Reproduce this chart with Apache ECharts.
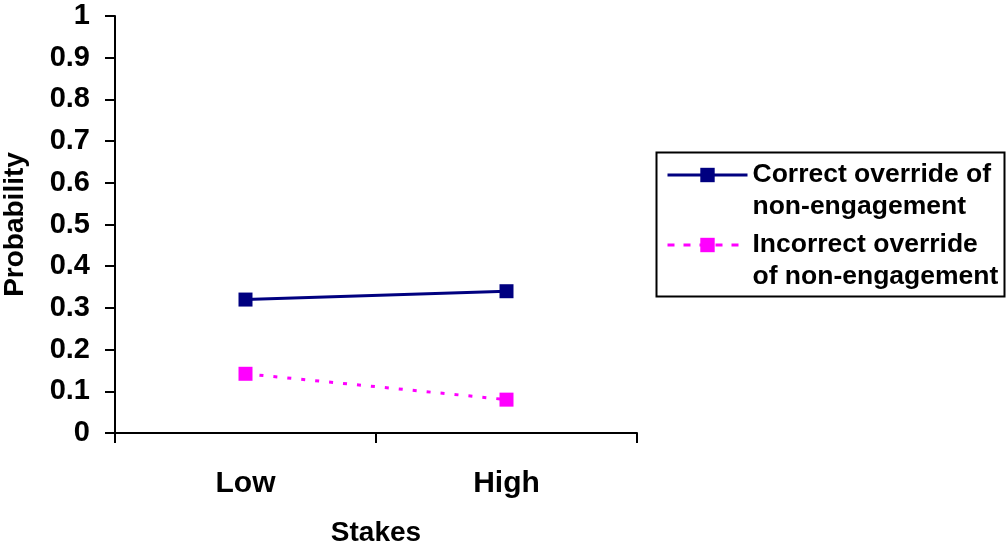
<!DOCTYPE html>
<html><head><meta charset="utf-8">
<script src="https://cdn.jsdelivr.net/npm/echarts@6/dist/echarts.min.js"></script>
<style>html,body{margin:0;padding:0;background:#fff}#c{width:1008px;height:550px}</style>
</head><body><div id="c"></div>
<script>
const categories = ['Low', 'High'];
const correctVals = [0.32, 0.34];
const incorrectVals = [0.142, 0.08];
const seriesNames = ['Correct override of\nnon-engagement', 'Incorrect override\nof non-engagement'];
const F = 'Liberation Sans, Arial, sans-serif';
const legendText = {fontFamily: F, fontWeight: 'bold', fontSize: 26.5, color: '#000', lineHeight: 32};
function legendFor(name, top, lineType) {
  return {
    data: [name], left: 666, top: top, padding: 0, orient: 'vertical',
    itemWidth: 80, itemHeight: 18, selectedMode: false,
    formatter: n => '\n' + n,
    lineStyle: {width: 3, type: lineType},
    textStyle: legendText
  };
}
const chart = echarts.init(document.getElementById('c'));
chart.setOption({
  animation: false,
  backgroundColor: '#fff',
  grid: {left: 115, right: 371, top: 16, bottom: 117, outerBoundsMode: 'none', containLabel: false},
  legend: [legendFor(seriesNames[0], 127, 'solid'), legendFor(seriesNames[1], 197, [7, 9])],
  graphic: [{
    type: 'rect', left: 654, top: 150, z: 100, silent: true,
    shape: {width: 348, height: 144},
    style: {fill: null, stroke: '#000', lineWidth: 2}
  }],
  xAxis: {
    type: 'category', data: categories, boundaryGap: true,
    name: 'Stakes', nameLocation: 'middle', nameGap: 86,
    nameTextStyle: {fontFamily: F, fontWeight: 'bold', fontSize: 28, color: '#000'},
    axisLine: {lineStyle: {color: '#000', width: 2}},
    axisTick: {show: true, length: 10, lineStyle: {color: '#000', width: 2}},
    axisLabel: {fontFamily: F, fontWeight: 'bold', fontSize: 30, color: '#000', margin: 36},
    splitLine: {show: false}
  },
  yAxis: {
    type: 'value', min: 0, max: 1, interval: 0.1,
    name: 'Probability', nameLocation: 'middle', nameGap: 86, nameRotate: 90,
    nameTextStyle: {fontFamily: F, fontWeight: 'bold', fontSize: 28, color: '#000'},
    axisLine: {show: true, lineStyle: {color: '#000', width: 2}},
    axisTick: {show: true, length: 10, lineStyle: {color: '#000', width: 2}},
    axisLabel: {fontFamily: F, fontWeight: 'bold', fontSize: 29, color: '#000', margin: 25,
      formatter: v => String(Math.round(v * 10) / 10)},
    splitLine: {show: false}
  },
  series: [
    {name: seriesNames[0], type: 'line', data: correctVals, symbol: 'rect', symbolSize: 14,
     lineStyle: {color: '#000080', width: 3, type: 'solid'},
     itemStyle: {color: '#000080'}},
    {name: seriesNames[1], type: 'line', data: incorrectVals, symbol: 'rect', symbolSize: 14,
     lineStyle: {color: '#ff00ff', width: 3, type: [4, 10]},
     itemStyle: {color: '#ff00ff'}}
  ]
});
</script></body></html>
